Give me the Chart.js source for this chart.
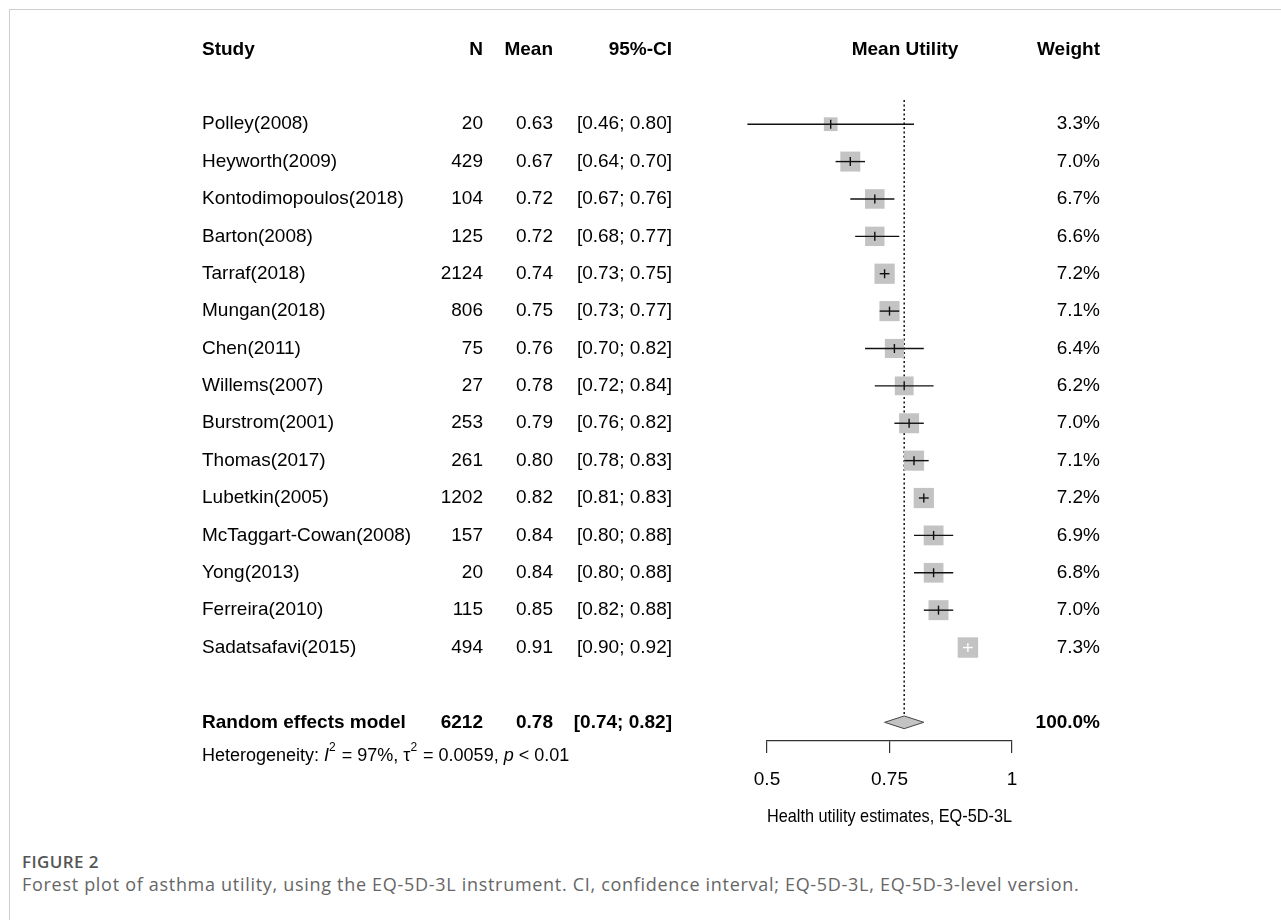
<!DOCTYPE html>
<html>
<head>
<meta charset="utf-8">
<script src="https://cdn.jsdelivr.net/npm/chart.js@4.4.1/dist/chart.umd.min.js"></script>
<style>
  html, body { margin: 0; padding: 0; background: #fff; }
  body { width: 1281px; height: 920px; position: relative; overflow: hidden; }
  #frame { position: absolute; left: 9px; top: 9px; right: 0; bottom: 0;
           border-left: 1px solid #cfcfcf; border-top: 1px solid #cfcfcf; }
  #wrap { position: absolute; left: 0; top: 0; width: 1281px; height: 850px; }
  .cap { position: absolute; left: 22px; font-family: "Open Sans", sans-serif; white-space: nowrap; }
  #figLabel { top: 850px; font-size: 17px; font-weight: 600; color: #555; letter-spacing: 0.4px; }
  #figText { top: 872px; font-size: 18px; color: #666; letter-spacing: 0.7px; }
</style>
</head>
<body>
<div id="frame"></div>
<div id="wrap"><canvas id="chartCanvas"></canvas></div>
<div class="cap" id="figLabel">FIGURE 2</div>
<div class="cap" id="figText">Forest plot of asthma utility, using the EQ-5D-3L instrument. CI, confidence interval; EQ-5D-3L, EQ-5D-3-level version.</div>
<script>
// --- data ---
const studies = ["Polley(2008)", "Heyworth(2009)", "Kontodimopoulos(2018)", "Barton(2008)",
  "Tarraf(2018)", "Mungan(2018)", "Chen(2011)", "Willems(2007)", "Burstrom(2001)",
  "Thomas(2017)", "Lubetkin(2005)", "McTaggart-Cowan(2008)", "Yong(2013)",
  "Ferreira(2010)", "Sadatsafavi(2015)"];
const nValues = [20, 429, 104, 125, 2124, 806, 75, 27, 253, 261, 1202, 157, 20, 115, 494];
const means   = [0.63, 0.67, 0.72, 0.72, 0.74, 0.75, 0.76, 0.78, 0.79, 0.80, 0.82, 0.84, 0.84, 0.85, 0.91];
const ciLow   = [0.46, 0.64, 0.67, 0.68, 0.73, 0.73, 0.70, 0.72, 0.76, 0.78, 0.81, 0.80, 0.80, 0.82, 0.90];
const ciHigh  = [0.80, 0.70, 0.76, 0.77, 0.75, 0.77, 0.82, 0.84, 0.82, 0.83, 0.83, 0.88, 0.88, 0.88, 0.92];
const weights = [3.3, 7.0, 6.7, 6.6, 7.2, 7.1, 6.4, 6.2, 7.0, 7.1, 7.2, 6.9, 6.8, 7.0, 7.3];

const pooledLabel = "Random effects model";
const pooledN = 6212;
const pooledMean = 0.78;
const pooledLow = 0.74;
const pooledHigh = 0.82;
const pooledWeight = "100.0%";

const headers = ["Study", "N", "Mean", "95%-CI", "Mean Utility", "Weight"];
const xTicks = [0.5, 0.75, 1];
const xTitle = "Health utility estimates, EQ-5D-3L";

// row positions on the y scale (one unit = one table line)
const headerRow = -2;
const pooledRow = 16;
const hetRow = 16.9;

const FONT = "'Liberation Sans', Arial, sans-serif";
const fmt = v => v.toFixed(2);

// a CI that sits inside its box is drawn in white, like the original
const insideBox = i => i === studies.length - 1;

const squareData = means.map((m, i) => ({ x: m, y: i }));
const boxRadius = weights.map(w => 7.55 * Math.sqrt(w) / Math.SQRT2);
const ciSets = studies.map((s, i) => ({
  type: "line",
  data: [{ x: ciLow[i], y: i }, { x: ciHigh[i], y: i }],
  borderColor: insideBox(i) ? "#ffffff" : "#111111",
  borderWidth: 1.4,
  pointRadius: 0,
  clip: false,
  order: 2
}));

const datasets = [
  {
    type: "scatter",
    label: "weight",
    data: squareData,
    pointStyle: "rect",
    // square side grows with sqrt(weight); rect side = radius * sqrt(2)
    pointRadius: boxRadius,
    pointHoverRadius: boxRadius,
    backgroundColor: "#c3c3c3",
    borderWidth: 0,
    clip: false,
    order: 5
  },
  ...ciSets,
  {
    type: "scatter",
    label: "mean",
    data: squareData,
    pointStyle: "line",
    rotation: 90,
    pointRadius: 4.5,
    borderColor: studies.map((s, i) => insideBox(i) ? "#ffffff" : "#111111"),
    borderWidth: 1.4,
    clip: false,
    order: 1
  },
  {
    type: "line",
    label: "pooled line",
    data: [{ x: pooledMean, y: -0.65 }, { x: pooledMean, y: pooledRow - 0.17 }],
    borderColor: "#111",
    borderWidth: 1.5,
    borderDash: [2, 2.5],
    pointRadius: 0,
    clip: false,
    order: 6
  },
  {
    type: "line",
    label: "diamond",
    data: [
      { x: pooledLow, y: pooledRow },
      { x: pooledMean, y: pooledRow - 0.17 },
      { x: pooledHigh, y: pooledRow },
      { x: pooledMean, y: pooledRow + 0.17 },
      { x: pooledLow, y: pooledRow }
    ],
    borderColor: "#444",
    borderWidth: 1,
    backgroundColor: "#c3c3c3",
    fill: "shape",
    pointRadius: 0,
    tension: 0,
    clip: false,
    order: 0
  }
];

// table text next to the plot, placed with the chart's own y scale
const tablePlugin = {
  id: "forestTable",
  afterDraw(chart) {
    const { ctx, scales: { y } } = chart;
    const colStudy = 202, colN = 483, colMean = 553, colCI = 672, colW = 1100;
    ctx.save();
    ctx.fillStyle = "#000";
    ctx.textBaseline = "middle";

    const put = (txt, px, py, align, bold) => {
      ctx.font = (bold ? "bold " : "") + "19px " + FONT;
      ctx.textAlign = align;
      ctx.fillText(txt, px, py);
    };

    const hy = y.getPixelForValue(headerRow);
    put(headers[0], colStudy, hy, "left", true);
    put(headers[1], colN, hy, "right", true);
    put(headers[2], colMean, hy, "right", true);
    put(headers[3], colCI, hy, "right", true);
    put(headers[4], 905, hy, "center", true);
    put(headers[5], colW, hy, "right", true);

    studies.forEach((s, i) => {
      const py = y.getPixelForValue(i);
      put(s, colStudy, py, "left", false);
      put(String(nValues[i]), colN, py, "right", false);
      put(fmt(means[i]), colMean, py, "right", false);
      put("[" + fmt(ciLow[i]) + "; " + fmt(ciHigh[i]) + "]", colCI, py, "right", false);
      put(weights[i].toFixed(1) + "%", colW, py, "right", false);
    });

    const ry = y.getPixelForValue(pooledRow);
    put(pooledLabel, colStudy, ry, "left", true);
    put(String(pooledN), colN, ry, "right", true);
    put(fmt(pooledMean), colMean, ry, "right", true);
    put("[" + fmt(pooledLow) + "; " + fmt(pooledHigh) + "]", colCI, ry, "right", true);
    put(pooledWeight, colW, ry, "right", true);

    // heterogeneity line with italics and superscripts
    const hy2 = y.getPixelForValue(hetRow);
    const parts = [
      ["Heterogeneity: ", "18px", false],
      ["I", "italic 18px", false],
      ["2", "12px", true],
      [" = 97%, ", "18px", false],
      ["\u03C4", "18px", false],
      ["2", "12px", true],
      [" = 0.0059, ", "18px", false],
      ["p", "italic 18px", false],
      [" < 0.01", "18px", false]
    ];
    let cx = colStudy;
    ctx.textAlign = "left";
    parts.forEach(([t, f, sup]) => {
      ctx.font = f + " " + FONT;
      ctx.fillText(t, cx, sup ? hy2 - 8 : hy2);
      cx += ctx.measureText(t).width + (sup ? 1 : 0);
    });
    ctx.restore();
  }
};

new Chart(document.getElementById("chartCanvas"), {
  type: "scatter",
  data: { datasets },
  plugins: [tablePlugin],
  options: {
    responsive: true,
    maintainAspectRatio: false,
    animation: false,
    layout: { padding: { left: 767, right: 269, top: 27, bottom: 18 } },
    plugins: { legend: { display: false }, tooltip: { enabled: false } },
    scales: {
      x: {
        type: "linear",
        min: 0.5,
        max: 1,
        afterBuildTicks: axis => { axis.ticks = xTicks.map(v => ({ value: v })); },
        grid: { drawOnChartArea: false, drawTicks: true, tickLength: 12, color: "#333", lineWidth: 1.2 },
        border: { display: true, color: "#333", width: 1.2 },
        ticks: {
          padding: 15,
          color: "#000",
          font: { family: FONT, size: 19 },
          callback: v => String(v)
        },
        title: {
          display: true,
          text: xTitle,
          color: "#000",
          font: { family: FONT, size: 18.5 },
          padding: { top: 0, bottom: 4 }
        }
      },
      y: {
        type: "linear",
        display: false,
        reverse: true,
        min: -2.6,
        max: 16.5
      }
    }
  }
});
</script>
</body>
</html>
